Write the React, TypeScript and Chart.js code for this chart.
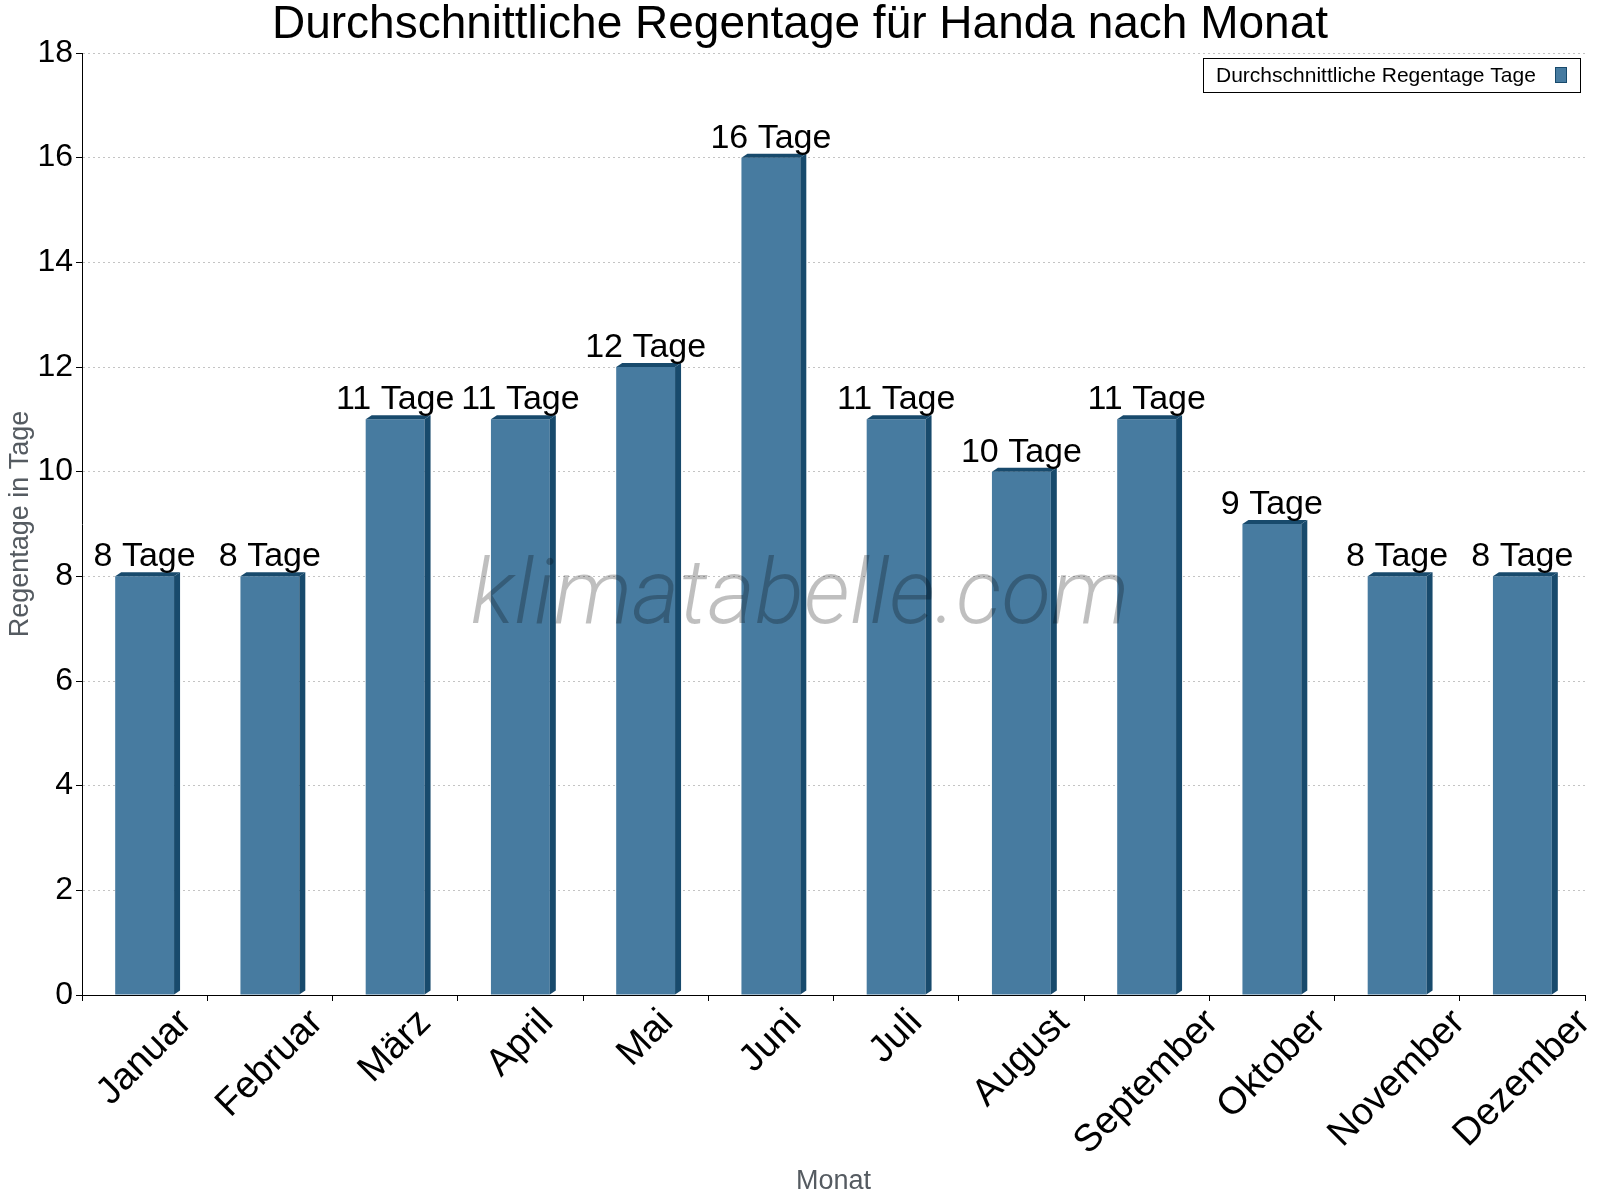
import React, { useEffect, useRef } from 'react';
import { Chart, registerables } from 'chart.js';

Chart.register(...registerables);

const chartTitle = 'Durchschnittliche Regentage für Handa nach Monat';
const seriesName = 'Durchschnittliche Regentage Tage';
const months = ['Januar', 'Februar', 'März', 'April', 'Mai', 'Juni', 'Juli', 'August', 'September', 'Oktober', 'November', 'Dezember'];
const rainDays = [8, 8, 11, 11, 12, 16, 11, 10, 11, 9, 8, 8];
const valueSuffix = ' Tage';
const yMin = 0;
const yMax = 18;
const yStep = 2;
const xAxisTitle = 'Monat';
const yAxisTitle = 'Regentage in Tage';
const watermark = 'klimatabelle.com';

const FONT = '"Liberation Sans", Arial, Helvetica, sans-serif';
const FRONT = '#477ba0';
const DARK = '#184a6c';
const AXIS_TITLE_COLOR = '#555b61';

const decoPlugin = {
  id: 'deco',
  afterDatasetsDraw(chart: any) {
    const ctx = chart.ctx as CanvasRenderingContext2D;
    const meta = chart.getDatasetMeta(0);
    const dx = 6;
    const dy = 4;
    ctx.save();
    meta.data.forEach((bar: any, i: number) => {
      const { x, y, base, width } = bar.getProps(['x', 'y', 'base', 'width'], true);
      const l = x - width / 2;
      const r = x + width / 2;
      ctx.fillStyle = DARK;
      ctx.beginPath();
      ctx.moveTo(r, base);
      ctx.lineTo(r, y);
      ctx.lineTo(r + dx, y - dy);
      ctx.lineTo(r + dx, base - dy);
      ctx.closePath();
      ctx.fill();
      ctx.beginPath();
      ctx.moveTo(l, y);
      ctx.lineTo(l + dx, y - dy);
      ctx.lineTo(r + dx, y - dy);
      ctx.lineTo(r, y);
      ctx.closePath();
      ctx.fill();
      ctx.fillStyle = '#000';
      ctx.font = `34px ${FONT}`;
      ctx.textAlign = 'center';
      ctx.textBaseline = 'alphabetic';
      ctx.fillText(`${rainDays[i]}${valueSuffix}`, x, y - 10);
    });
    ctx.restore();
  },
  afterDraw(chart: any) {
    const ctx = chart.ctx as CanvasRenderingContext2D;
    const xScale = chart.scales.x;
    const area = chart.chartArea;
    ctx.save();
    // rotated x labels, centered on each category
    const fs = 38;
    ctx.font = `${fs}px ${FONT}`;
    ctx.fillStyle = '#000';
    ctx.textAlign = 'center';
    ctx.textBaseline = 'middle';
    months.forEach((m, i) => {
      const cx = xScale.getPixelForValue(i);
      const w = ctx.measureText(m).width;
      const half = ((w + 0.72 * fs) * Math.SQRT1_2) / 2;
      const cy = area.bottom + 12 + half;
      ctx.save();
      ctx.translate(cx, cy);
      ctx.rotate(-Math.PI / 4);
      ctx.fillText(m, 0, 0);
      ctx.restore();
    });

    // watermark
    ctx.font = `italic 300 91px Roboto, ${FONT}`;
    ctx.fillStyle = 'rgba(0,0,0,0.25)';
    ctx.textAlign = 'center';
    ctx.textBaseline = 'alphabetic';
    ctx.fillText(watermark, 800, 623);

    // title
    ctx.font = `46px ${FONT}`;
    ctx.fillStyle = '#000';
    ctx.textAlign = 'center';
    ctx.fillText(chartTitle, chart.width / 2, 38);

    // legend
    ctx.fillStyle = '#fff';
    ctx.fillRect(1203, 58, 377, 34);
    ctx.strokeStyle = '#000';
    ctx.lineWidth = 1;
    ctx.strokeRect(1203.5, 58.5, 377, 34);
    ctx.font = `21px ${FONT}`;
    ctx.fillStyle = '#000';
    ctx.textAlign = 'left';
    ctx.fillText(seriesName, 1216, 82);
    ctx.fillStyle = FRONT;
    ctx.fillRect(1555, 67, 12, 16);
    ctx.strokeStyle = DARK;
    ctx.strokeRect(1555.5, 67.5, 11, 15);
    ctx.restore();
  },
};

export default function App() {
  const canvasRef = useRef<HTMLCanvasElement | null>(null);

  useEffect(() => {
    document.body.style.margin = '0';
    const canvas = canvasRef.current;
    if (!canvas) return;
    const chart = new Chart(canvas, {
      type: 'bar',
      data: {
        labels: months,
        datasets: [
          {
            label: seriesName,
            data: rainDays,
            backgroundColor: FRONT,
            borderWidth: 0,
            categoryPercentage: 1,
            barPercentage: 0.47,
          },
        ],
      },
      options: {
        animation: false,
        responsive: true,
        maintainAspectRatio: false,
        devicePixelRatio: 1,
        layout: { padding: { top: 53, right: 15, left: 0, bottom: 0 } },
        plugins: {
          legend: { display: false },
          title: { display: false },
          tooltip: { enabled: false },
        },
        scales: {
          x: {
            offset: true,
            afterFit: (s: any) => {
              s.height = 205;
            },
            ticks: { display: false },
            grid: {
              offset: true,
              drawOnChartArea: false,
              drawTicks: true,
              tickLength: 6,
              tickColor: '#000',
              color: '#000',
            },
            border: { display: true, color: '#000', width: 1 },
            title: {
              display: true,
              text: xAxisTitle,
              color: AXIS_TITLE_COLOR,
              font: { family: FONT, size: 27 },
              padding: { top: 4, bottom: 2 },
            },
          },
          y: {
            min: yMin,
            max: yMax,
            afterFit: (s: any) => {
              s.width = 82;
            },
            ticks: {
              stepSize: yStep,
              color: '#000',
              padding: 3,
              font: { family: FONT, size: 32 },
            },
            grid: {
              color: (c: any) => (c.tick && c.tick.value === 0 ? 'rgba(0,0,0,0)' : '#c4c4c4'),
              tickColor: '#000',
              tickLength: 6,
              tickBorderDash: [],
              lineWidth: 1,
            },
            border: { display: true, color: '#000', width: 1, dash: [2, 3] },
            title: {
              display: true,
              text: yAxisTitle,
              color: AXIS_TITLE_COLOR,
              font: { family: FONT, size: 27 },
              padding: { top: 4, bottom: 4 },
            },
          },
        },
      },
      plugins: [decoPlugin],
    });
    return () => chart.destroy();
  }, []);

  return (
    <div style={{ width: 1600, height: 1200, position: 'relative' }}>
      <canvas ref={canvasRef} style={{ display: 'block' }} />
    </div>
  );
}
